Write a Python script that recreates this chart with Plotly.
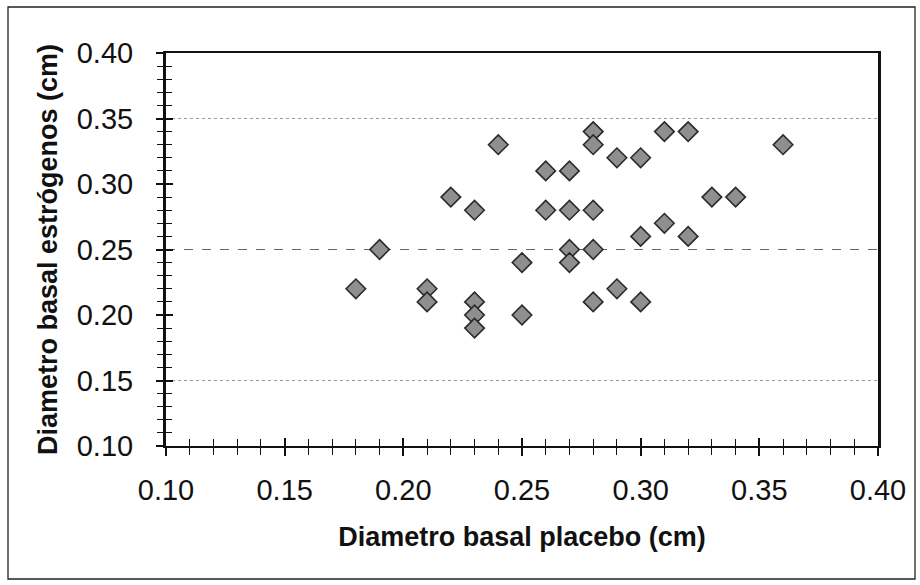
import plotly.graph_objects as go

# Data
placebo = [0.18, 0.19, 0.21, 0.21, 0.22, 0.23, 0.23, 0.23, 0.23, 0.24,
           0.25, 0.25, 0.26, 0.26, 0.27, 0.27, 0.27, 0.27, 0.28, 0.28,
           0.28, 0.28, 0.28, 0.29, 0.29, 0.30, 0.30, 0.30, 0.31, 0.31,
           0.32, 0.32, 0.33, 0.34, 0.36]
estrogenos = [0.22, 0.25, 0.22, 0.21, 0.29, 0.28, 0.21, 0.20, 0.19, 0.33,
              0.24, 0.20, 0.31, 0.28, 0.31, 0.28, 0.25, 0.24, 0.34, 0.33,
              0.28, 0.25, 0.21, 0.32, 0.22, 0.32, 0.26, 0.21, 0.34, 0.27,
              0.34, 0.26, 0.29, 0.29, 0.33]
tick_vals = [0.10, 0.15, 0.20, 0.25, 0.30, 0.35, 0.40]
tick_text = ["0.10", "0.15", "0.20", "0.25", "0.30", "0.35", "0.40"]
dotted_grid = [0.15, 0.35]
dashed_grid = [0.25]
x_title = "Diametro basal placebo (cm)"
y_title = "Diametro basal estrógenos (cm)"

W, H = 920, 585
ML, MR, MT, MB = 166, 42, 53, 139
RANGE = [0.10, 0.40]
FONT = "Liberation Sans, Arial, sans-serif"

fig = go.Figure()


def anchor_trace(xa, ya):
    # invisible placeholder so that an overlay axis pair gets drawn
    return go.Scatter(x=[RANGE[0]], y=[RANGE[0]], xaxis=xa, yaxis=ya, mode="markers",
                      marker=dict(opacity=0, size=1), showlegend=False, hoverinfo="skip")


fig.add_trace(anchor_trace("x", "y"))
fig.add_trace(anchor_trace("x", "y3"))
fig.add_trace(anchor_trace("x", "y4"))

fig.add_trace(go.Scatter(
    x=placebo, y=estrogenos, mode="markers", showlegend=False,
    xaxis="x2", yaxis="y2",
    marker=dict(symbol="diamond", size=15, color="#8f8f8f",
                line=dict(color="#2a2a2a", width=1.6)),
))

common_x = dict(range=RANGE, fixedrange=True, zeroline=False, showgrid=False)
common_y = dict(range=RANGE, fixedrange=True, zeroline=False)

fig.update_layout(
    width=W, height=H,
    margin=dict(l=ML, r=MR, t=MT, b=MB),
    paper_bgcolor="white", plot_bgcolor="white",
    font=dict(family=FONT, color="#111"),
    xaxis=dict(**common_x, tickvals=tick_vals, ticktext=tick_text,
               ticks="outside", ticklen=8, tickwidth=1.5, tickcolor="#111",
               minor=dict(dtick=0.01, tick0=0.10, ticks="outside", ticklen=7,
                          tickwidth=1.3, tickcolor="#111", showgrid=False),
               showline=True, linecolor="#111", linewidth=2, mirror=True,
               tickfont=dict(size=29, color="#111"), ticklabelstandoff=9,
               title=dict(text="<b>" + x_title + "</b>", font=dict(size=27, color="#111"),
                          standoff=22)),
    yaxis=dict(**common_y, showgrid=False, tickvals=tick_vals, ticktext=tick_text,
               ticks="outside", ticklen=7, tickwidth=1.5, tickcolor="#111",
               minor=dict(dtick=0.01, tick0=0.10, ticks="outside", ticklen=6,
                          tickwidth=1.3, tickcolor="#111", showgrid=False),
               showline=True, linecolor="#111", linewidth=3, mirror=True,
               tickfont=dict(size=29, color="#111"), ticklabelstandoff=17,
               title=dict(text="<b>" + y_title + "</b>", font=dict(size=27, color="#111"),
                          standoff=12)),
    xaxis2=dict(**common_x, overlaying="x", anchor="y2", side="bottom",
                tickvals=tick_vals, showticklabels=False,
                ticks="inside", ticklen=8, tickwidth=1.5, tickcolor="#111",
                minor=dict(dtick=0.01, tick0=0.10, ticks="inside", ticklen=7,
                           tickwidth=1.3, tickcolor="#111", showgrid=False),
                showline=False),
    yaxis2=dict(**common_y, overlaying="y", anchor="x2", side="left", showgrid=False,
                tickvals=tick_vals, showticklabels=False,
                ticks="inside", ticklen=7, tickwidth=1.5, tickcolor="#111",
                minor=dict(dtick=0.01, tick0=0.10, ticks="inside", ticklen=6,
                           tickwidth=1.3, tickcolor="#111", showgrid=False),
                showline=False),
    yaxis3=dict(**common_y, overlaying="y", anchor="x", side="left",
                tickvals=dotted_grid, showticklabels=False, ticks="",
                showgrid=True, gridcolor="#9a9a9a", gridwidth=1, griddash="dot",
                showline=False),
    yaxis4=dict(**common_y, overlaying="y", anchor="x", side="left",
                tickvals=dashed_grid, showticklabels=False, ticks="",
                showgrid=True, gridcolor="#666666", gridwidth=1.2, griddash="dash",
                showline=False),
)

# thin outer frame of the chart area
x0p = (8 - ML) / (W - ML - MR)
x1p = (915 - ML) / (W - ML - MR)
y1p = 1 + (MT - 7) / (H - MT - MB)
y0p = -(579 - (H - MB)) / (H - MT - MB)
fig.add_shape(type="rect", xref="paper", yref="paper",
              x0=x0p, x1=x1p, y0=y0p, y1=y1p,
              line=dict(color="#222", width=1.3), layer="below")

fig.write_html("out.html")
